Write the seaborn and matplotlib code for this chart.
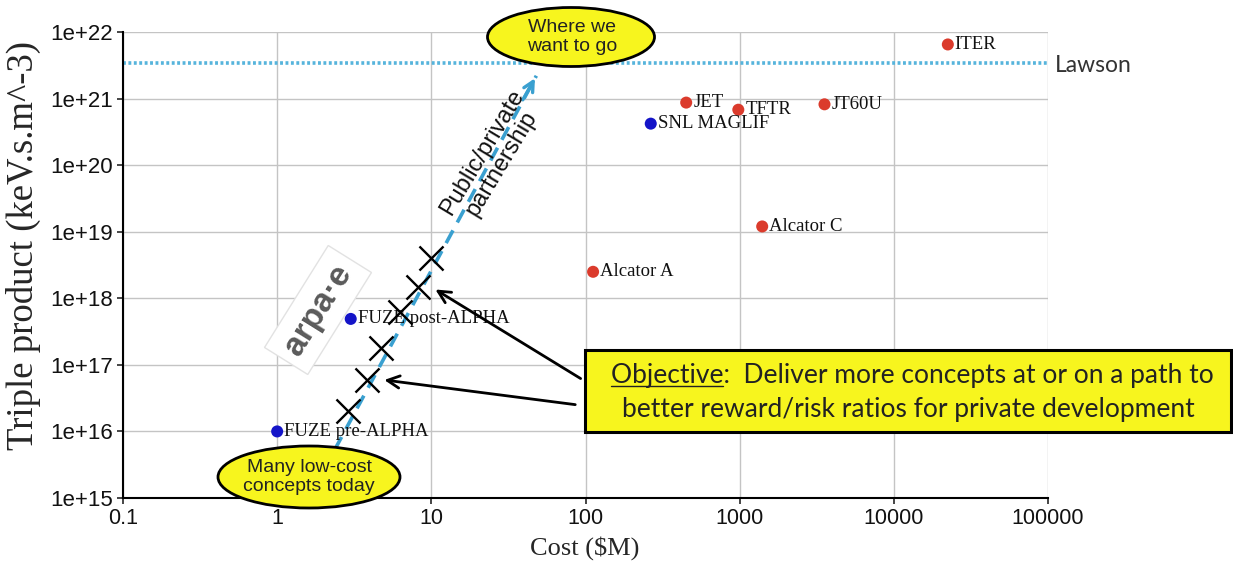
import numpy as np
import pandas as pd
import matplotlib
matplotlib.use("Agg")
import matplotlib.pyplot as plt
import seaborn as sns
from matplotlib.patches import Ellipse, Rectangle
from matplotlib.lines import Line2D

# ---------------- data ----------------
names = ["ITER", "JET", "TFTR", "JT60U", "SNL MAGLIF", "Alcator C", "Alcator A",
         "FUZE post-ALPHA", "FUZE pre-ALPHA"]
cost = [22400, 450, 980, 3550, 265, 1400, 112, 3.0, 1.0]
triple = [6.5e21, 8.7e20, 6.8e20, 8.2e20, 4.2e20, 1.2e19, 2.5e18, 4.9e17, 1.0e16]
group = ["public", "public", "public", "public", "arpa", "public", "public", "arpa", "arpa"]

path_cost = [2.9, 3.8, 4.75, 6.3, 8.2, 10.0]
path_triple = [2.0e16, 6.0e16, 1.8e17, 6.3e17, 1.5e18, 4.0e18]

trend_cost = [2.0, 48.0]
trend_triple = [2.6e15, 2.2e21]

lawson = 3.4e21

xticks = [0.1, 1, 10, 100, 1000, 10000, 100000]
xticklabels = ["0.1", "1", "10", "100", "1000", "10000", "100000"]
yticks = [1e15, 1e16, 1e17, 1e18, 1e19, 1e20, 1e21, 1e22]
yticklabels = ["1e+15", "1e+16", "1e+17", "1e+18", "1e+19", "1e+20", "1e+21", "1e+22"]

df = pd.DataFrame({"name": names, "cost": cost, "triple": triple, "group": group})

# ---------------- style ----------------
sns.set_style("white")
plt.rcParams["font.family"] = ["Liberation Sans", "DejaVu Sans"]

W, H = 1233, 562
fig = plt.figure(figsize=(W / 100, H / 100), dpi=100)
ax = fig.add_axes([123 / W, 1 - 498 / H, (1048 - 123) / W, (498 - 32) / H])

def fx(px):
    return px / W

def fy(py):
    return 1 - py / H

ax.set_xscale("log")
ax.set_yscale("log")
ax.set_xlim(0.1, 100000)
ax.set_ylim(1e15, 1e22)

# grid
for xv in xticks:
    ax.axvline(xv, color="#c4c4c4", lw=1.0, zorder=0)
for yv in yticks:
    ax.axhline(yv, color="#c4c4c4", lw=1.0, zorder=0)

# Lawson line
ax.axhline(lawson, color="#56b4dc", lw=2.6, ls=(0, (0.8, 0.7)), zorder=1)

# trend dashed line with arrowhead
sns.lineplot(x=trend_cost, y=trend_triple, ax=ax, color="#3aa0d0", lw=2.6,
             linestyle=(0, (4, 2.5)), zorder=2, estimator=None, sort=False)
ax.annotate("", xy=(trend_cost[1], trend_triple[1]),
            xytext=(trend_cost[1] * 0.8, trend_triple[1] * 0.4),
            arrowprops=dict(arrowstyle="->", color="#3aa0d0", lw=2.4, mutation_scale=18),
            zorder=2)

# points
sns.scatterplot(data=df, x="cost", y="triple", hue="group",
                palette={"public": "#db3b2c", "arpa": "#1414c8"},
                s=75, edgecolor="none", legend=False, ax=ax, zorder=4)
for n, c, t in zip(names, cost, triple):
    ax.annotate(n, (c, t), xytext=(5, 0), textcoords="offset points", va="center",
                ha="left", fontsize=13.5, family=["Liberation Serif"], color="#111111",
                zorder=5)

# path X markers
sns.scatterplot(x=path_cost, y=path_triple, marker="x", s=300, color="black",
                linewidth=1.7, ax=ax, zorder=6)

# spines and ticks
for s in ["top", "right"]:
    ax.spines[s].set_visible(False)
for s in ["left", "bottom"]:
    ax.spines[s].set_color("black")
    ax.spines[s].set_linewidth(1.5)
ax.set_xticks(xticks)
ax.set_xticklabels(xticklabels, fontsize=15.5, color="#111111")
ax.set_yticks(yticks)
ax.set_yticklabels(yticklabels, fontsize=16, color="#111111")
ax.minorticks_off()
ax.tick_params(axis="both", direction="out", length=4, width=1.2, pad=3,
               bottom=True, left=True)
ax.set_xlabel("Cost (\\$M)", fontsize=19, family=["Liberation Serif"])
ax.set_ylabel("Triple product (keV.s.m^-3)", fontsize=26.5, family=["Liberation Serif"])
ax.xaxis.set_label_coords((585 - 123) / 925, (498 - 536) / 466)
ax.yaxis.set_label_coords((41 - 123) / 925, (498 - 246) / 466)

# Lawson label
fig.text(fx(1055), fy(66), "Lawson", fontsize=16.5, family=["Lato", "DejaVu Sans"],
         color="#333333", va="center", ha="left")

# rotated partnership text
fig.text(fx(492), fy(158), "Public/private\npartnership", rotation=59, fontsize=17,
         ha="center", va="center", color="#111111", linespacing=1.05,
         rotation_mode="anchor")

# arpa-e logo text
fig.text(fx(318), fy(310), "arpa·e", rotation=58, fontsize=24, fontweight="bold",
         ha="center", va="center", color="#5a5a5a", rotation_mode="anchor",
         bbox=dict(boxstyle="square,pad=0.3", fc="white", ec="#e2e2e2", lw=1.0),
         zorder=3)

# ellipses
e1 = Ellipse((fx(571), fy(37)), 167 / W, 59 / H, transform=fig.transFigure,
             fc="#f7f51e", ec="black", lw=2, zorder=10)
fig.add_artist(e1)
fig.text(fx(572), fy(37), "Where we\nwant to go", ha="center", va="center",
         fontsize=14, color="#222222", zorder=11, linespacing=1.15)

e2 = Ellipse((fx(309), fy(477)), 182 / W, 62 / H, transform=fig.transFigure,
             fc="#f7f51e", ec="black", lw=2, zorder=10)
fig.add_artist(e2)
fig.text(fx(309), fy(477), "Many low-cost\nconcepts today", ha="center", va="center",
         fontsize=14, color="#222222", zorder=11, linespacing=1.15)

# objective box
box = Rectangle((fx(585), fy(432)), (1231 - 585) / W, (432 - 350) / H,
                transform=fig.transFigure, fc="#f7f51e", ec="black", lw=2.2, zorder=10)
fig.add_artist(box)
line1 = "Objective:  Deliver more concepts at or on a path to"
line2 = "better reward/risk ratios for private development"
FS_BOX = 19
t1 = fig.text(fx(912), fy(375), line1, ha="center", va="center", fontsize=FS_BOX,
              family=["Lato", "DejaVu Sans"], color="#222222", zorder=11)
t2 = fig.text(fx(908), fy(409), line2, ha="center", va="center", fontsize=FS_BOX,
              family=["Lato", "DejaVu Sans"], color="#222222", zorder=11)

# arrows to path markers
ax.annotate("", xy=(path_cost[4] * 1.25, path_triple[4] * 0.95), xycoords="data",
            xytext=(fx(583), fy(380)), textcoords="figure fraction",
            arrowprops=dict(arrowstyle="->", color="black", lw=2, mutation_scale=22),
            annotation_clip=False, zorder=9)
ax.annotate("", xy=(path_cost[1] * 1.25, path_triple[1] * 1.0), xycoords="data",
            xytext=(fx(578), fy(405)), textcoords="figure fraction",
            arrowprops=dict(arrowstyle="->", color="black", lw=2, mutation_scale=22),
            annotation_clip=False, zorder=9)

# underline "Objective"
fig.canvas.draw()
r = fig.canvas.get_renderer()
bb = t1.get_window_extent(renderer=r)
tmp = fig.text(0, 0, "Objective", fontsize=FS_BOX, family=["Lato", "DejaVu Sans"])
wb = tmp.get_window_extent(renderer=r)
tmp.remove()
y_ul = bb.y0 + 2
fig.add_artist(Line2D([bb.x0 / W, (bb.x0 + wb.width) / W], [y_ul / H, y_ul / H],
                      transform=fig.transFigure, color="#222222", lw=1.0, zorder=12))

fig.savefig("out.png", dpi=100)
